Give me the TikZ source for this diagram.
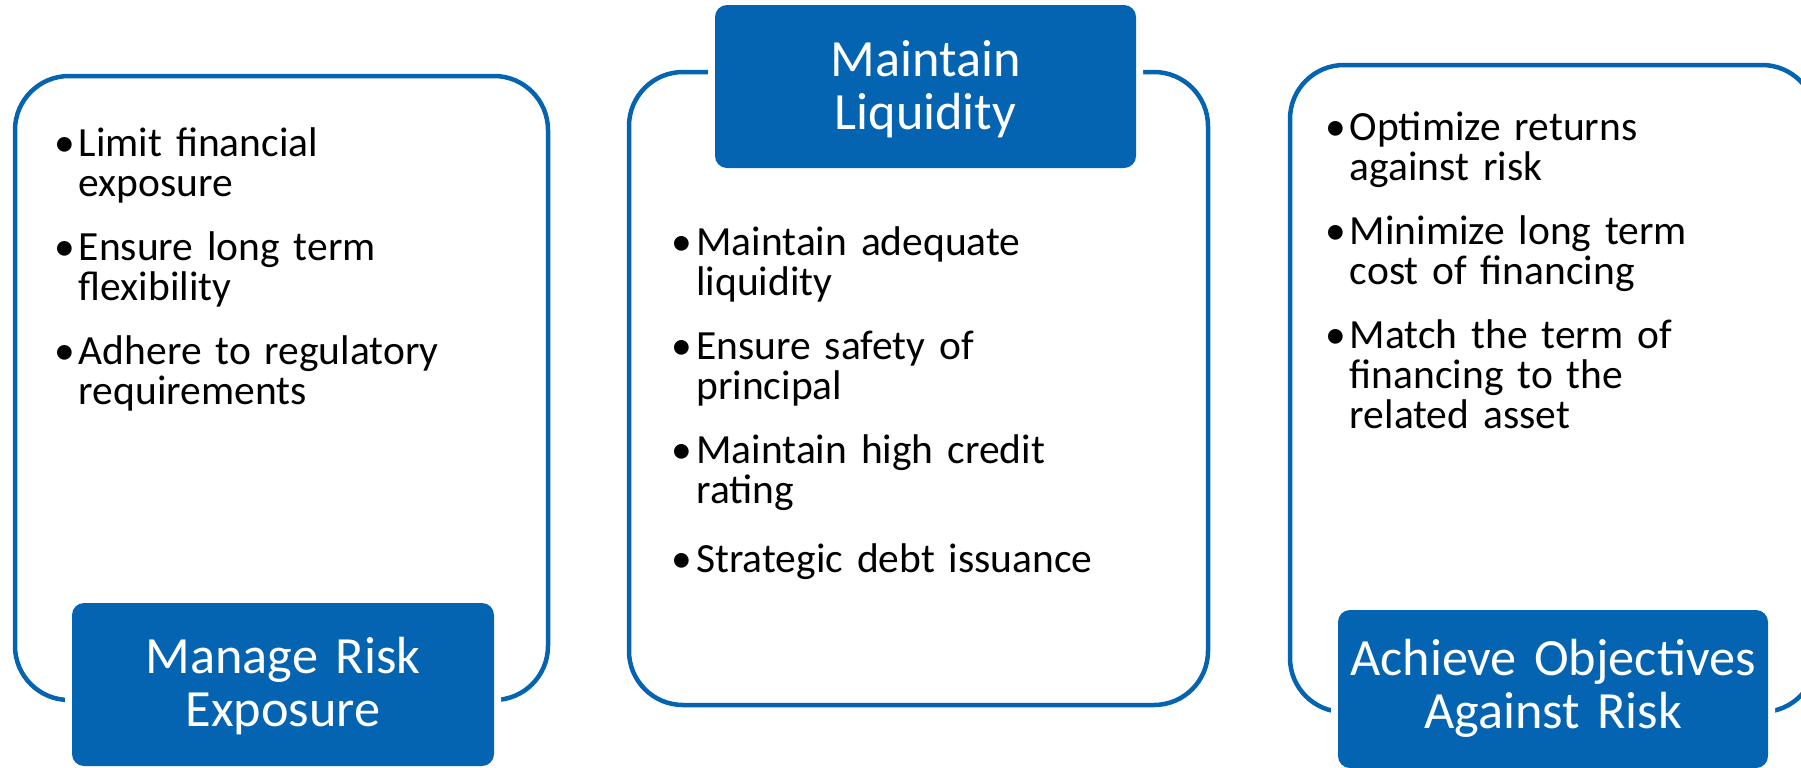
\documentclass[tikz,border=0pt]{standalone}
\usepackage{fontspec}
\setmainfont{Carlito}
\definecolor{sablue}{RGB}{4,100,178}
\newcommand{\bitem}[1]{\noindent\hangindent=14.5pt\hangafter=1\makebox[14.5pt][c]{\textbullet}#1\par}
\begin{document}
\begin{tikzpicture}[x=0.5pt,y=-0.5pt,
  outerbox/.style={draw=sablue, line width=2.25pt, rounded corners=27pt},
  labelbox/.style={fill=sablue, rounded corners=6pt, preaction={draw=white, line width=7pt}, inner sep=0pt},
  titletext/.style={anchor=base, inner sep=0pt, text=white, align=center, font=\fontsize{26.15pt}{26.5pt}\selectfont},
  bodytext/.style={anchor=base west, inner sep=0pt, text width=250pt, align=left, font=\fontsize{20.75pt}{20pt}\selectfont}]
\clip (0,0) rectangle (1801,767);
\fill[white] (0,0) rectangle (1801,767);
% outer frames
\draw[outerbox] (15,76) rectangle (548,700);
\draw[outerbox] (629,72) rectangle (1208,705);
\draw[outerbox] (1290,65) rectangle (1816,712);
% label boxes
\node[labelbox, minimum width=211pt, minimum height=81.5pt] (lab1) at (283,684.5) {};
\node[labelbox, minimum width=210.5pt, minimum height=81.5pt] (lab2) at (925.5,86.5) {};
\node[labelbox, minimum width=215pt, minimum height=79pt] (lab3) at (1553,689) {};
\node[titletext, text width=211pt] (t1) at (283,673) {Manage Risk\\Exposure};
\node[titletext, text width=210.5pt] (t2) at (925.5,76) {Maintain\\Liquidity};
\node[titletext, text width=215pt] (t3) at (1553,675) {Achieve Objectives\\Against Risk};
% bullet texts
\node[bodytext] (b1) at (49.5,156) {\setlength{\parskip}{12pt}%
\bitem{Limit financial\newline exposure}%
\bitem{Ensure long term\newline flexibility}%
\bitem{Adhere to regulatory\newline requirements}};
\node[bodytext] (b2) at (667,255) {\setlength{\parskip}{12pt}%
\bitem{Maintain adequate\newline liquidity}%
\bitem{Ensure safety of\newline principal}%
\bitem{Maintain high credit\newline rating}%
\vspace{2.5pt}%
\bitem{Strategic debt issuance}};
\node[bodytext] (b3) at (1320.5,140) {\setlength{\parskip}{12pt}%
\bitem{Optimize returns\newline against risk}%
\bitem{Minimize long term\newline cost of financing}%
\bitem{Match the term of\newline financing to the\newline related asset}};
\end{tikzpicture}
\end{document}
